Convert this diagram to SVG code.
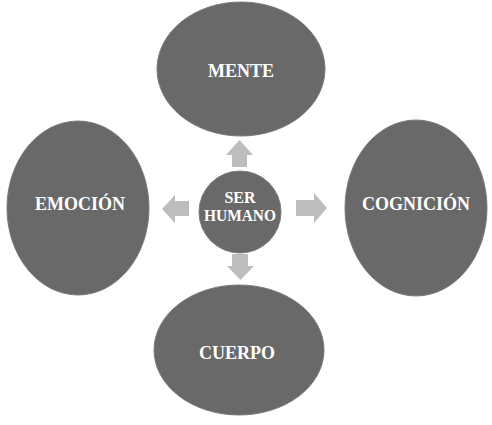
<svg xmlns="http://www.w3.org/2000/svg" width="492" height="425" viewBox="0 0 492 425">
<style>
.node{fill:#696969;stroke:#7a7a7a;stroke-width:1}
.lbl{fill:#ffffff;font-family:"Liberation Serif","DejaVu Serif",serif;font-weight:bold;font-size:18px;text-anchor:middle}
.small{font-size:16px}
.arr{fill:#bdbdbd}
</style>
<rect width="492" height="425" fill="#ffffff"/>
<g id="mente"><ellipse class="node" cx="241" cy="69" rx="84" ry="67"/><text class="lbl" x="241" y="77">MENTE</text></g>
<g id="emocion"><ellipse class="node" cx="78" cy="208" rx="71" ry="87"/><text class="lbl" x="80" y="210">EMOCIÓN</text></g>
<g id="cognicion"><ellipse class="node" cx="416" cy="208" rx="71" ry="88"/><text class="lbl" x="416" y="210">COGNICIÓN</text></g>
<g id="cuerpo"><ellipse class="node" cx="239" cy="350" rx="85" ry="65"/><text class="lbl" x="237" y="359">CUERPO</text></g>
<g id="ser-humano"><circle class="node" cx="240" cy="212" r="41"/><text class="lbl small" x="240" y="203">SER</text><text class="lbl small" x="240" y="221" textLength="72" lengthAdjust="spacingAndGlyphs">HUMANO</text></g>
<g id="connectors">
<polygon class="arr" points="239.5,140 253,155 247,155 247,167 232,167 232,155 226,155"/>
<polygon class="arr" points="240.5,280 254,266 248,266 248,254 232,254 232,266 227,266"/>
<polygon class="arr" points="162,209 175,195 175,201 189,201 189,216 175,216 175,223"/>
<polygon class="arr" points="327,208 314,193 314,200 296,200 296,216 314,216 314,223"/>
</g>
</svg>
